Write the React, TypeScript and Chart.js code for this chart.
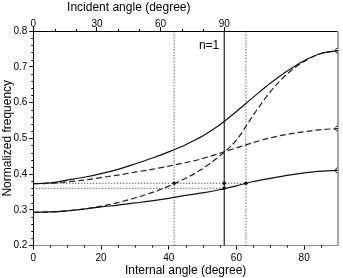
import React, { useEffect, useRef } from 'react';
import { Chart, registerables } from 'chart.js';

Chart.register(...registerables);

// ---- data ----
const internalAngles = [0, 5, 10, 15, 20, 25, 30, 35, 40, 45, 50, 55, 60, 65, 70, 75, 80, 85, 90];
const upperSolid = [0.373, 0.375, 0.383, 0.391, 0.401, 0.413, 0.428, 0.444, 0.462, 0.482, 0.506, 0.537, 0.575, 0.615, 0.654, 0.688, 0.717, 0.737, 0.745];
const lowerSolid = [0.293, 0.294, 0.297, 0.302, 0.308, 0.313, 0.319, 0.325, 0.332, 0.34, 0.347, 0.356, 0.367, 0.379, 0.388, 0.396, 0.403, 0.408, 0.41];
const dashedFromUpper = [0.373, 0.374, 0.378, 0.383, 0.39, 0.397, 0.405, 0.413, 0.422, 0.432, 0.443, 0.458, 0.473, 0.488, 0.501, 0.511, 0.518, 0.524, 0.527];
const dashedFromLower = [0.293, 0.294, 0.297, 0.302, 0.31, 0.32, 0.333, 0.348, 0.366, 0.388, 0.415, 0.45, 0.495, 0.565, 0.63, 0.68, 0.715, 0.737, 0.745];

const yTicks = [0.2, 0.3, 0.4, 0.5, 0.6, 0.7, 0.8];
const xTicks = [0, 20, 40, 60, 80];
const incidentTicks = [0, 30, 60, 90];
const incidentAxisMax = 143.6;

const normalAngle = 56.4; // n=1 line
const dottedAngles = [41.6, 62.8];
const levelHigh = 0.374;
const levelLow = 0.36;
const dotX = [41.6, 56.4, 56.4, 62.8];
const dotY = [0.374, 0.374, 0.36, 0.374];
const endX = [90, 90, 90];
const endY = [0.745, 0.527, 0.41];

const FONT = "'Liberation Sans', Arial, sans-serif";

const toXY = (ys: number[]) => internalAngles.map((x, i) => ({ x, y: ys[i] }));

const decorPlugin = {
  id: 'decor',
  beforeDatasetsDraw(chart: any) {
    const { ctx, chartArea } = chart;
    ctx.save();
    ctx.strokeStyle = '#a8a8a8';
    ctx.lineWidth = 2;
    ctx.beginPath();
    ctx.moveTo(chartArea.right, chartArea.top);
    ctx.lineTo(chartArea.right, chartArea.bottom);
    ctx.stroke();
    ctx.restore();
  },
  afterDraw(chart: any) {
    const { ctx, chartArea, scales } = chart;
    const x = scales.x, y = scales.y, x2 = scales.x2;
    ctx.save();
    ctx.strokeStyle = '#000';
    ctx.lineWidth = 1;
    ctx.beginPath();
    // y minor ticks
    for (let i = 0; i <= 30; i++) {
      if (i % 5 === 0) continue;
      const v = 0.2 + i * 0.02;
      const py = Math.round(y.getPixelForValue(v)) + 0.5;
      ctx.moveTo(chartArea.left - 2, py);
      ctx.lineTo(chartArea.left, py);
    }
    // bottom minor ticks
    for (let v = 5; v < 90; v += 5) {
      if (v % 20 === 0) continue;
      const px = Math.round(x.getPixelForValue(v)) + 0.5;
      ctx.moveTo(px, chartArea.bottom);
      ctx.lineTo(px, chartArea.bottom + 2);
    }
    // top minor ticks
    for (let v = 10; v < 90; v += 10) {
      if (v % 30 === 0) continue;
      const px = Math.round(x2.getPixelForValue(v)) + 0.5;
      ctx.moveTo(px, chartArea.top);
      ctx.lineTo(px, chartArea.top - 2);
    }
    ctx.stroke();

    ctx.fillStyle = '#000';
    ctx.font = `12px ${FONT}`;
    ctx.textAlign = 'center';
    ctx.textBaseline = 'middle';
    ctx.fillText('Incident angle (degree)', x2.getPixelForValue(45), 8);

    ctx.textAlign = 'right';
    ctx.fillText('n=1', x.getPixelForValue(normalAngle) - 5, y.getPixelForValue(0.758));
    ctx.restore();
  },
};

export default function App() {
  const ref = useRef<HTMLCanvasElement | null>(null);

  useEffect(() => {
    document.body.style.margin = '0';
    if (!ref.current) return;
    Chart.defaults.font.family = FONT;
    const lineBase = { pointRadius: 0, pointHoverRadius: 0, fill: false, cubicInterpolationMode: 'monotone' as const };
    const dotted = { borderColor: '#222', borderWidth: 1, borderDash: [1, 2] };
    const chart = new Chart(ref.current, {
      type: 'line',
      data: {
        datasets: [
          { ...lineBase, ...dotted, data: [{ x: dottedAngles[0], y: 0.2 }, { x: dottedAngles[0], y: 0.8 }] },
          { ...lineBase, ...dotted, data: [{ x: dottedAngles[1], y: 0.2 }, { x: dottedAngles[1], y: 0.8 }] },
          { ...lineBase, ...dotted, data: [{ x: 0, y: levelHigh }, { x: dottedAngles[1], y: levelHigh }] },
          { ...lineBase, ...dotted, data: [{ x: 0, y: levelLow }, { x: normalAngle, y: levelLow }] },
          { ...lineBase, data: [{ x: normalAngle, y: 0.2 }, { x: normalAngle, y: 0.8 }], borderColor: '#222', borderWidth: 1.2 },
          { ...lineBase, data: toXY(upperSolid), borderColor: '#111', borderWidth: 1.2 },
          { ...lineBase, data: toXY(lowerSolid), borderColor: '#111', borderWidth: 1.2 },
          { ...lineBase, data: toXY(dashedFromUpper), borderColor: '#222', borderWidth: 1.2, borderDash: [6, 3] },
          { ...lineBase, data: toXY(dashedFromLower), borderColor: '#222', borderWidth: 1.2, borderDash: [6, 3] },
          { data: dotX.map((xv, i) => ({ x: xv, y: dotY[i] })), showLine: false, pointRadius: 1.8, pointBackgroundColor: '#111', pointBorderColor: '#111', pointBorderWidth: 0 },
          { data: endX.map((xv, i) => ({ x: xv, y: endY[i] })), showLine: false, pointRadius: 2.6, pointBackgroundColor: '#fff', pointBorderColor: '#333', pointBorderWidth: 1 },
        ],
      },
      options: {
        animation: false,
        responsive: false,
        events: [],
        layout: { padding: { left: 0, right: 3, top: 0, bottom: 0 } },
        plugins: { legend: { display: false }, tooltip: { enabled: false }, title: { display: false } },
        scales: {
          x: {
            type: 'linear',
            position: 'bottom',
            min: 0,
            max: 90,
            afterBuildTicks: (s: any) => { s.ticks = xTicks.map((v) => ({ value: v })); },
            afterFit: (s: any) => { s.height = 32.5; },
            grid: { drawOnChartArea: false, drawTicks: true, tickLength: 4, tickColor: '#000' },
            border: { display: true, color: '#8a8a8a', width: 1 },
            ticks: { color: '#000', font: { size: 10 }, padding: 3, maxRotation: 0 },
            title: { display: true, text: 'Internal angle (degree)', color: '#000', font: { size: 12 }, padding: { top: 6, bottom: 0 } },
          },
          x2: {
            type: 'linear',
            position: 'top',
            min: 0,
            max: incidentAxisMax,
            afterBuildTicks: (s: any) => { s.ticks = incidentTicks.map((v) => ({ value: v })); },
            afterFit: (s: any) => { s.height = 31; },
            grid: { drawOnChartArea: false, drawTicks: true, tickLength: 4, tickColor: '#000' },
            border: { display: true, color: '#000', width: 1 },
            ticks: { color: '#000', font: { size: 10 }, padding: -3, maxRotation: 0 },
          },
          y: {
            type: 'linear',
            position: 'left',
            min: 0.2,
            max: 0.8,
            afterBuildTicks: (s: any) => { s.ticks = yTicks.map((v) => ({ value: v })); },
            afterFit: (s: any) => { s.width = 33.3; },
            grid: { drawOnChartArea: false, drawTicks: true, tickLength: 4, tickColor: '#000' },
            border: { display: true, color: '#000', width: 1 },
            ticks: { color: '#000', font: { size: 10 }, padding: 2, callback: (v: any) => Number(v).toFixed(1) },
            title: { display: true, text: 'Normalized frequency', color: '#000', font: { size: 12 }, padding: { top: 0, bottom: 0 } },
          },
        },
      },
      plugins: [decorPlugin],
    } as any);
    return () => chart.destroy();
  }, []);

  return (
    <div style={{ width: 343, height: 278 }}>
      <canvas ref={ref} width={343} height={278} style={{ width: 343, height: 278, display: 'block' }} />
    </div>
  );
}
